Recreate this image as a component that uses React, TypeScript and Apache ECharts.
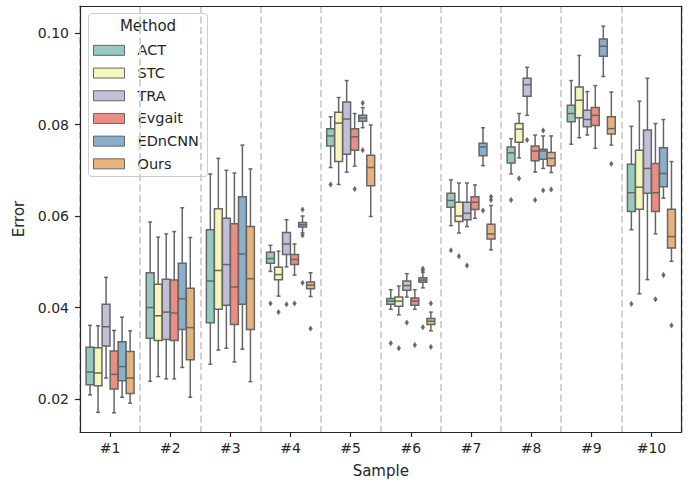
import React, { useEffect, useRef } from 'react';
import * as echarts from 'echarts';

const samples = ['#1', '#2', '#3', '#4', '#5', '#6', '#7', '#8', '#9', '#10'];
const methods = ['ACT', 'STC', 'TRA', 'Evgait', 'EDnCNN', 'Ours'];
const colors = ['#96cac1', '#f5f5bc', '#c1bed6', '#ea8e83', '#8aafc9', '#e6b37c'];
const yTicks = [0.02, 0.04, 0.06, 0.08, 0.1];

// [lower whisker, Q1, median, Q3, upper whisker] per sample
const ACT = [
  [0.0209, 0.0231, 0.0259, 0.0313, 0.0361],
  [0.0239, 0.0333, 0.04, 0.0476, 0.0587],
  [0.0276, 0.0367, 0.0458, 0.057, 0.0692],
  [0.0479, 0.0497, 0.0507, 0.0521, 0.0536],
  [0.0706, 0.0753, 0.0775, 0.0791, 0.0817],
  [0.0396, 0.0407, 0.0414, 0.042, 0.0439],
  [0.0579, 0.0619, 0.0634, 0.065, 0.0679],
  [0.0692, 0.0716, 0.0738, 0.0751, 0.0769],
  [0.0757, 0.0806, 0.0824, 0.0842, 0.0896],
  [0.057, 0.061, 0.0651, 0.0713, 0.0796],
];
const STC = [
  [0.0171, 0.0229, 0.0257, 0.0312, 0.036],
  [0.0249, 0.0328, 0.0382, 0.0451, 0.0554],
  [0.0307, 0.0396, 0.0481, 0.0616, 0.0726],
  [0.0425, 0.0461, 0.0472, 0.0488, 0.0523],
  [0.0669, 0.0719, 0.0803, 0.0827, 0.0859],
  [0.0384, 0.0403, 0.0414, 0.0423, 0.0447],
  [0.0563, 0.0588, 0.06, 0.063, 0.0672],
  [0.0727, 0.0761, 0.079, 0.0802, 0.0824],
  [0.0771, 0.0815, 0.0853, 0.0882, 0.0951],
  [0.043, 0.0615, 0.0663, 0.0744, 0.0851],
];
const TRA = [
  [0.0246, 0.0316, 0.0358, 0.0407, 0.0466],
  [0.0244, 0.033, 0.039, 0.0462, 0.0561],
  [0.0311, 0.0405, 0.0494, 0.0595, 0.07],
  [0.0489, 0.0516, 0.0539, 0.0564, 0.0592],
  [0.0696, 0.0735, 0.0812, 0.0849, 0.0896],
  [0.0423, 0.0438, 0.0448, 0.0458, 0.0474],
  [0.0577, 0.0592, 0.0606, 0.063, 0.0672],
  [0.082, 0.0862, 0.0887, 0.0901, 0.0925],
  [0.0777, 0.0795, 0.0811, 0.0831, 0.0872],
  [0.0461, 0.065, 0.0704, 0.0788, 0.0901],
];
const Evgait = [
  [0.017, 0.0222, 0.0254, 0.0305, 0.035],
  [0.0244, 0.0328, 0.0388, 0.046, 0.0566],
  [0.0281, 0.0363, 0.0445, 0.0583, 0.0694],
  [0.0471, 0.0494, 0.0505, 0.0516, 0.0539],
  [0.0709, 0.0744, 0.0773, 0.0791, 0.0824],
  [0.0396, 0.0405, 0.0414, 0.0421, 0.0439],
  [0.0595, 0.0614, 0.063, 0.0642, 0.0668],
  [0.0696, 0.0721, 0.0742, 0.0753, 0.0777],
  [0.0748, 0.0798, 0.082, 0.0837, 0.0885],
  [0.0561, 0.061, 0.0651, 0.0715, 0.0802],
];
const EDnCNN = [
  [0.0204, 0.024, 0.0271, 0.0325, 0.0379],
  [0.0269, 0.0352, 0.0419, 0.0497, 0.0618],
  [0.0309, 0.0407, 0.0517, 0.0642, 0.0755],
  [0.0563, 0.0576, 0.0581, 0.0586, 0.06],
  [0.0793, 0.0807, 0.0814, 0.082, 0.0837],
  [0.0443, 0.0455, 0.046, 0.0465, 0.0477],
  [0.071, 0.0732, 0.0751, 0.0759, 0.0793],
  [0.0704, 0.0724, 0.0742, 0.0746, 0.0775],
  [0.0905, 0.0949, 0.0971, 0.0987, 0.1015],
  [0.0639, 0.0664, 0.0693, 0.0749, 0.0811],
];
const Ours = [
  [0.0191, 0.0212, 0.0246, 0.0304, 0.0349],
  [0.0204, 0.0286, 0.0356, 0.0442, 0.0553],
  [0.0238, 0.0352, 0.0463, 0.0577, 0.0703],
  [0.0424, 0.0441, 0.0449, 0.0456, 0.0476],
  [0.0599, 0.0666, 0.0706, 0.0733, 0.0799],
  [0.0349, 0.0363, 0.037, 0.0376, 0.039],
  [0.0526, 0.055, 0.0561, 0.0582, 0.0623],
  [0.0695, 0.071, 0.0726, 0.0739, 0.0775],
  [0.0755, 0.0779, 0.0791, 0.0817, 0.0871],
  [0.0501, 0.053, 0.0555, 0.0615, 0.0719],
];

// outliers: [sample index, value]
const ACTOut = [[3, 0.0409], [4, 0.0669], [5, 0.0322], [6, 0.0525], [7, 0.0635], [9, 0.0408]];
const STCOut = [[3, 0.039], [5, 0.0311], [6, 0.0512], [7, 0.0682]];
const TRAOut = [[3, 0.0407], [5, 0.0367], [6, 0.0492], [7, 0.0766]];
const EvgaitOut = [[3, 0.0409], [4, 0.0659], [5, 0.0318], [7, 0.0635], [9, 0.0418]];
const EDnCNNOut = [
  [3, 0.0614], [3, 0.0558], [3, 0.0454], [4, 0.0847], [4, 0.0744],
  [5, 0.0485], [5, 0.0481], [5, 0.0357], [6, 0.0612], [7, 0.0787], [7, 0.0656], [9, 0.0471],
];
const OursOut = [[3, 0.0354], [5, 0.0409], [5, 0.0314], [6, 0.0642], [6, 0.0635], [7, 0.0658], [8, 0.0714], [9, 0.0361]];

const stats = [ACT, STC, TRA, Evgait, EDnCNN, Ours];
const outliers = [ACTOut, STCOut, TRAOut, EvgaitOut, EDnCNNOut, OursOut];

const FONT = 'DejaVu Sans';
const INK = '#262626';
const GRAY = '#666666';

export default function App() {
  const ref = useRef<HTMLDivElement>(null);
  useEffect(() => {
    document.body.style.margin = '0';
    const chart = echarts.init(ref.current!, null, { renderer: 'svg' });
    const n = methods.length;
    const offsetX = (api: any, i: number, k: number) => {
      const band = api.size([1, 0])[0];
      const step = (band * 0.8) / n;
      return { cx: api.coord([k, 0])[0] + (i - (n - 1) / 2) * step, bw: step * 0.98 };
    };
    const series: any[] = [];
    methods.forEach((m, i) => {
      series.push({
        type: 'custom',
        name: m,
        silent: true,
        z: 2,
        data: stats[i].map((s, k) => [k, ...s]),
        encode: { x: 0, y: [1, 2, 3, 4, 5] },
        renderItem: (params: any, api: any) => {
          const k = api.value(0);
          const { cx, bw } = offsetX(api, i, k);
          const y = [1, 2, 3, 4, 5].map((d) => api.coord([k, api.value(d)])[1]);
          const ls = { stroke: GRAY, lineWidth: 1.5, fill: null };
          return {
            type: 'group',
            children: [
              { type: 'line', shape: { x1: cx, y1: y[0], x2: cx, y2: y[1] }, style: ls },
              { type: 'line', shape: { x1: cx, y1: y[3], x2: cx, y2: y[4] }, style: ls },
              { type: 'line', shape: { x1: cx - bw / 4, y1: y[0], x2: cx + bw / 4, y2: y[0] }, style: ls },
              { type: 'line', shape: { x1: cx - bw / 4, y1: y[4], x2: cx + bw / 4, y2: y[4] }, style: ls },
              {
                type: 'rect',
                shape: { x: cx - bw / 2, y: y[3], width: bw, height: y[1] - y[3] },
                style: { fill: colors[i], stroke: GRAY, lineWidth: 1.5 },
              },
              { type: 'line', shape: { x1: cx - bw / 2, y1: y[2], x2: cx + bw / 2, y2: y[2] }, style: ls },
            ],
          };
        },
      });
      series.push({
        type: 'custom',
        name: m,
        silent: true,
        z: 2,
        data: outliers[i],
        encode: { x: 0, y: 1 },
        renderItem: (params: any, api: any) => {
          const k = api.value(0);
          const { cx } = offsetX(api, i, k);
          const cy = api.coord([k, api.value(1)])[1];
          return {
            type: 'polygon',
            shape: { points: [[cx, cy - 2.7], [cx + 1.8, cy], [cx, cy + 2.7], [cx - 1.8, cy]] },
            style: { fill: GRAY, stroke: GRAY, lineWidth: 0.5 },
          };
        },
      });
    });

    chart.setOption({
      animation: false,
      grid: { left: 80, right: 14.5, top: 6, bottom: 49.5 },
      xAxis: [
        {
          type: 'category',
          data: samples,
          position: 'bottom',
          z: 10,
          axisLine: { show: true, lineStyle: { color: INK, width: 1.2 } },
          axisTick: { show: true, alignWithLabel: true, length: 5, lineStyle: { color: INK, width: 1.2 } },
          axisLabel: { fontFamily: FONT, fontSize: 14, color: INK, margin: 9 },
          splitLine: { show: true, lineStyle: { color: '#d2d2d2', width: 2, type: [7, 3.5] } },
          name: 'Sample',
          nameLocation: 'middle',
          nameGap: 31,
          nameTextStyle: { fontFamily: FONT, fontSize: 15, color: INK },
        },
        {
          type: 'category',
          data: samples,
          position: 'top',
          z: 10,
          axisLine: { show: true, lineStyle: { color: INK, width: 1.2 } },
          axisTick: { show: false },
          axisLabel: { show: false },
          splitLine: { show: false },
        },
      ],
      yAxis: [
        {
          type: 'value',
          min: 0.0128,
          max: 0.1059,
          position: 'left',
          z: 10,
          axisLine: { show: true, lineStyle: { color: INK, width: 1.2 } },
          axisTick: { show: true, length: 5, customValues: yTicks, lineStyle: { color: INK, width: 1.2 } },
          axisLabel: {
            customValues: yTicks,
            formatter: (v: number) => v.toFixed(2),
            fontFamily: FONT,
            fontSize: 14,
            color: INK,
            margin: 11,
          },
          splitLine: { show: false },
          name: 'Error',
          nameLocation: 'middle',
          nameGap: 50,
          nameTextStyle: { fontFamily: FONT, fontSize: 15, color: INK },
        },
        {
          type: 'value',
          min: 0.0128,
          max: 0.1059,
          position: 'right',
          z: 10,
          axisLine: { show: true, lineStyle: { color: INK, width: 1.2 } },
          axisTick: { show: false },
          axisLabel: { show: false },
          splitLine: { show: false },
        },
      ],
      legend: {
        orient: 'vertical',
        left: 93,
        top: 39,
        padding: 0,
        itemGap: 0,
        itemWidth: 31,
        itemHeight: 10,
        z: 6,
        selectedMode: false,
        data: methods.map((m, i) => ({
          name: m,
          icon: 'rect',
          itemStyle: { color: colors[i], borderColor: GRAY, borderWidth: 1 },
        })),
        formatter: (name: string) => `{gap|}${name}`,
        textStyle: {
          fontFamily: FONT,
          fontSize: 14.5,
          color: INK,
          lineHeight: 22.7,
          rich: { gap: { width: 8, height: 10 } },
        },
      },
      graphic: [
        {
          type: 'rect',
          z: 5,
          shape: { x: 88.5, y: 13.5, width: 119, height: 163, r: 3 },
          style: { fill: 'rgba(255,255,255,0.8)', stroke: '#cccccc', lineWidth: 1 },
        },
        {
          type: 'text',
          z: 6,
          x: 148,
          y: 26,
          style: {
            text: 'Method',
            fontFamily: FONT,
            fontSize: 15,
            fill: INK,
            align: 'center',
            verticalAlign: 'middle',
          },
        },
      ],
      series,
    });
    return () => chart.dispose();
  }, []);
  return <div ref={ref} style={{ width: 696, height: 483 }} />;
}
